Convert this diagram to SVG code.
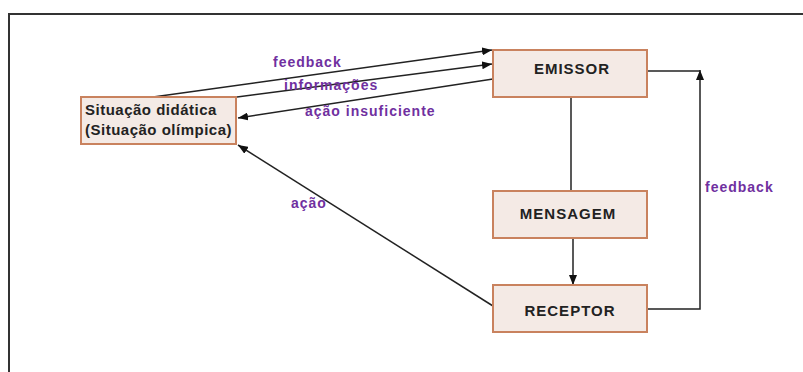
<svg xmlns="http://www.w3.org/2000/svg" width="803" height="372" viewBox="0 0 803 372">
  <style>
    .box rect { fill: #F4EAE5; stroke: #C9825E; stroke-width: 2; }
    .box text { font-family: "Liberation Sans", Arial, sans-serif; font-weight: bold; font-size: 15px; fill: #222; letter-spacing: 1px; }
    .box text.left { letter-spacing: 0.5px; }
    .lbl { font-family: "Liberation Sans", Arial, sans-serif; font-weight: bold; font-size: 14px; fill: #7030A0; letter-spacing: 1px; }
    .con path { fill: none; stroke: #222; stroke-width: 1.5; }
    .frame { fill: none; stroke: #333; stroke-width: 2; }
  </style>
  <defs>
    <marker id="arrow" viewBox="0 0 10 8" refX="10" refY="4" markerWidth="10" markerHeight="8" markerUnits="userSpaceOnUse" orient="auto">
      <path d="M0,0 L10,4 L0,8 Z" fill="#111"/>
    </marker>
  </defs>

  <rect width="803" height="372" fill="#fff"/>
  <!-- outer frame (open at the right and bottom) -->
  <path class="frame" d="M9,372 V14 H803"/>

  <!-- connectors -->
  <g id="connectors" class="con">
    <path d="M153,97 L492,50" marker-end="url(#arrow)"/>
    <path d="M237,97 L492,64" marker-end="url(#arrow)"/>
    <path d="M493,79 L238,118" marker-end="url(#arrow)"/>
    <path d="M493,306 L238,145" marker-end="url(#arrow)"/>
    <path d="M571,97 V191"/>
    <path d="M573,238 V285" marker-end="url(#arrow)"/>
    <path d="M647,309 H700 V70" marker-end="url(#arrow)"/>
    <path d="M647,71 H700"/>
  </g>

  <!-- connector labels -->
  <g id="labels">
    <text class="lbl" x="273" y="67">feedback</text>
    <text class="lbl" x="284" y="89.5">informações</text>
    <text class="lbl" x="305" y="115.5">ação insuficiente</text>
    <text class="lbl" x="291" y="208">ação</text>
    <text class="lbl" x="705" y="192">feedback</text>
  </g>

  <!-- nodes -->
  <g id="situacao" class="box">
    <rect x="81" y="97" width="155" height="47"/>
    <text class="left" x="85" y="115">Situação didática</text>
    <text class="left" x="85" y="135">(Situação olímpica)</text>
  </g>
  <g id="emissor" class="box">
    <rect x="493" y="50" width="154" height="47"/>
    <text x="572" y="73.5" text-anchor="middle">EMISSOR</text>
  </g>
  <g id="mensagem" class="box">
    <rect x="493" y="191" width="154" height="47"/>
    <text x="568" y="219" text-anchor="middle">MENSAGEM</text>
  </g>
  <g id="receptor" class="box">
    <rect x="493" y="285" width="154" height="47"/>
    <text x="570" y="316" text-anchor="middle">RECEPTOR</text>
  </g>
</svg>
